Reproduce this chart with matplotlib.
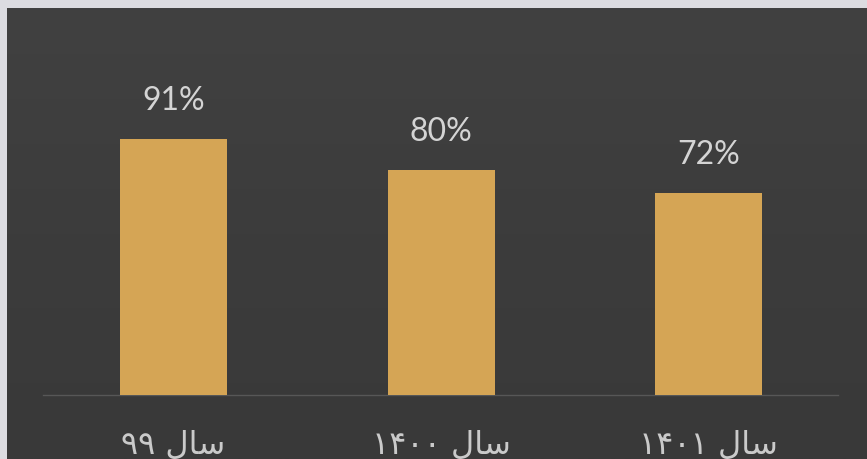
import matplotlib
matplotlib.use("Agg")
import matplotlib.pyplot as plt
import numpy as np
from matplotlib.colors import LinearSegmentedColormap

# ---- data ----
years = ["۹۹", "۱۴۰۰", "۱۴۰۱"]          # Persian year labels
prefix = "سال"                           # "year"
values = [91, 80, 72]                    # percentages
value_labels = ["91%", "80%", "72%"]

# simple Persian shaping for the word used (matplotlib has no RTL shaping)
SHAPED = {"سال": "\uFEDD\uFE8E\uFEB3"}   # visual order: lam(iso) alef(fin) seen(ini)

def visual(year):
    return year + " " + SHAPED[prefix]

categories = [visual(y) for y in years]

W, H = 867, 459
fig = plt.figure(figsize=(W / 100, H / 100), dpi=100)
fig.patch.set_facecolor("#dcdce1")

# dark board background with a subtle vertical shading
bgax = fig.add_axes([7 / W, 0, 1 - 7 / W, 1 - 8 / H], zorder=-5)
cmap = LinearSegmentedColormap.from_list("bg", ["#393939", "#3c3c3c", "#414141"])
grad = np.linspace(0, 1, 256).reshape(-1, 1)
bgax.imshow(grad, aspect="auto", cmap=cmap, origin="lower",
            extent=[0, 1, 0, 1], interpolation="bilinear")
bgax.set_xlim(0, 1); bgax.set_ylim(0, 1)
bgax.set_xticks([]); bgax.set_yticks([])
for s in bgax.spines.values():
    s.set_visible(False)

ax = fig.add_axes([43 / W, 64 / H, (838 - 43) / W, 281 / H], zorder=1)
ax.set_facecolor("none")
x = list(range(len(values)))
bars = ax.bar(x, values, width=0.4, color="#d5a555", zorder=3)
ax.set_xlim(-0.488, 2.484)
ax.set_ylim(0, 100)

for s in ["top", "right", "left"]:
    ax.spines[s].set_visible(False)
ax.spines["bottom"].set_color("#575757")
ax.spines["bottom"].set_linewidth(1.0)
ax.set_yticks([])
ax.set_xticks(x)
ax.set_xticklabels(categories, fontsize=23, color="#cacaca",
                   family=["DejaVu Sans"])
ax.tick_params(axis="x", length=0, pad=25)

for xi, v, lab in zip(x, values, value_labels):
    ax.annotate(lab, (xi, v), xytext=(0, 21), textcoords="offset points",
                ha="center", va="baseline", fontsize=23, color="#d4d4d4",
                family=["Lato", "DejaVu Sans"], fontweight="normal")

fig.savefig("out.png", dpi=100, facecolor=fig.get_facecolor())
